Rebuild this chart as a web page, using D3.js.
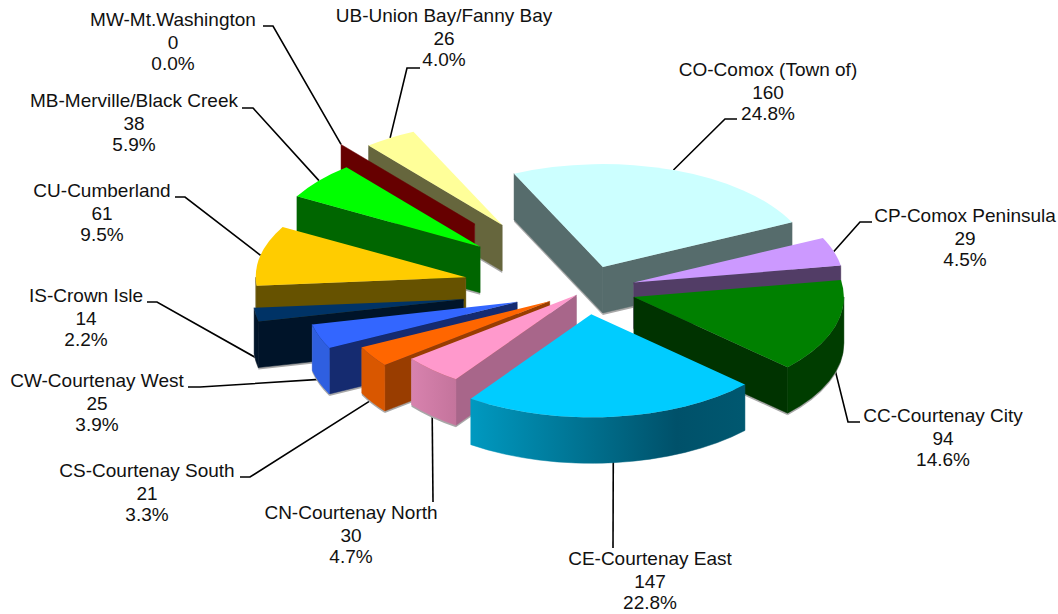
<!doctype html>
<html>
<head>
<meta charset="utf-8">
<title>Pie</title>
<script src="https://cdn.jsdelivr.net/npm/d3@7"></script>
<style>
    body { margin: 0; background: #fff; }
    text { font-family: "Liberation Sans", Arial, sans-serif; font-size: 19px; fill: #111; }
</style>
</head>
<body>
<script>

    var names = ["CO-Comox (Town of)", "CP-Comox Peninsula", "CC-Courtenay City", "CE-Courtenay East",
        "CN-Courtenay North", "CS-Courtenay South", "CW-Courtenay West", "IS-Crown Isle",
        "CU-Cumberland", "MB-Merville/Black Creek", "MW-Mt.Washington", "UB-Union Bay/Fanny Bay"];
    var values = [160, 29, 94, 147, 30, 21, 25, 14, 61, 38, 0, 26];

    // how far each slice is pulled out of the pie
    var explode = [50, 50, 50, 50, 14, 43, 73, 124, 123, 138, 175, 157];

    var topColors = ["#CCFFFF", "#CC99FF", "#008000", "#00CCFF", "#FF99CC", "#FF6600", "#3366FF", "#003366", "#FFCC00", "#00FF00", "#660000", "#FFFF99"];
    var wallColors = ["#566C6C", "#523D66", "#003300", "#00516A", "#A8668A", "#993D00", "#152B70", "#001429", "#665200", "#006600", "#660000", "#66663D"];
    var rimColors = ["#566C6C", "#523D66", "#003D00", "url(#rimCE)", "url(#rimCN)", "#D95700", "#2F5FE0", "#001429", "#665200", "#006600", "#660000", "#66663D"];

    // label centre x, first baseline y, then leader elbow and end
    var labelX = [768, 965, 943, 650, 351, 147, 97, 86, 102, 134, 173, 444];
    var labelY = [76, 222, 422, 565, 519, 477, 387, 302, 197, 107, 26, 22];
    var rowOffsets = [0, 23, 44];
    var leaderPts = [
        [[725, 119], [737, 119]],
        [[860, 222], [872, 222]],
        [[848, 422], [860, 422]],
        [[613, 548]],
        [[433, 502]],
        [[250, 477], [240, 477]],
        [[200, 387], [188, 387]],
        [[157, 302], [147, 302]],
        [[185, 197], [175, 197]],
        [[253, 108], [242, 108]],
        [[273, 26], [263, 26]],
        [[407, 68], [420, 68]]
    ];

    var cx = 586, cy = 290, radius = 210, tilt = 0.49, depth = 46;

    var svg = d3.select("body").append("svg")
        .attr("width", 1058)
        .attr("height", 614);

    var defs = svg.append("defs");
    var gradCE = defs.append("linearGradient").attr("id", "rimCE");
    gradCE.append("stop").attr("offset", "0%").attr("stop-color", "#0099C0");
    gradCE.append("stop").attr("offset", "45%").attr("stop-color", "#006E8C");
    gradCE.append("stop").attr("offset", "75%").attr("stop-color", "#00516A");
    gradCE.append("stop").attr("offset", "100%").attr("stop-color", "#005870");
    var gradCN = defs.append("linearGradient").attr("id", "rimCN");
    gradCN.append("stop").attr("offset", "0%").attr("stop-color", "#D882AE");
    gradCN.append("stop").attr("offset", "100%").attr("stop-color", "#C4749C");

    var pie = d3.pie().sort(null)
        .startAngle(-25 * Math.PI / 180)
        .endAngle(335 * Math.PI / 180);
    var slices = pie(values);

    var arc = d3.arc().innerRadius(0).outerRadius(radius);
    var pctFormat = d3.format(".1%");
    var total = d3.sum(values);

    function onRim(a) {
        return [radius * Math.sin(a), -radius * tilt * Math.cos(a)];
    }

    slices.forEach(function(d, i) {
        var mid = (d.startAngle + d.endAngle) / 2;
        d.mid = mid;
        d.ax = cx + explode[i] * Math.sin(mid);
        d.ay = cy - explode[i] * tilt * Math.cos(mid);
        d.idx = i;
    });

    // leaders go under the slices
    var leaders = svg.append("g");
    slices.forEach(function(d, i) {
        var p = onRim(d.mid);
        var x0 = d.ax + p[0];
        var y0 = d.ay + p[1] + (Math.cos(d.mid) < 0 ? depth - 3 : 0);
        var pts = [[x0, y0]].concat(leaderPts[i]);
        leaders.append("path")
            .attr("d", d3.line()(pts))
            .attr("fill", "none")
            .attr("stroke", "#000")
            .attr("stroke-width", 1.6);
    });

    function radialWall(d, angle) {
        var p = onRim(angle);
        var pts = [[d.ax, d.ay], [d.ax + p[0], d.ay + p[1]], [d.ax + p[0], d.ay + p[1] + depth], [d.ax, d.ay + depth]];
        return d3.line()(pts) + "Z";
    }

    function rimWall(d, a0, a1) {
        var p0 = onRim(a0), p1 = onRim(a1);
        var rx = radius, ry = radius * tilt;
        return "M" + (d.ax + p0[0]) + "," + (d.ay + p0[1]) +
            "A" + rx + "," + ry + " 0 0 1 " + (d.ax + p1[0]) + "," + (d.ay + p1[1]) +
            "L" + (d.ax + p1[0]) + "," + (d.ay + p1[1] + depth) +
            "A" + rx + "," + ry + " 0 0 0 " + (d.ax + p0[0]) + "," + (d.ay + p0[1] + depth) + "Z";
    }

    // back slices first
    var order = slices.slice().sort(function(a, b) {
        return Math.cos(b.mid) - Math.cos(a.mid);
    });

    order.forEach(function(d) {
        var i = d.idx;
        var group = svg.append("g").attr("class", "slice");
        var a0 = Math.max(d.startAngle, Math.PI / 2), a1 = Math.min(d.endAngle, Math.PI * 1.5);
        var hasRim = a1 > a0;
        var walls = [];

        if (Math.sin(d.startAngle) < 0) walls.push([radialWall(d, d.startAngle), wallColors[i]]);
        if (Math.sin(d.endAngle) > 0) walls.push([radialWall(d, d.endAngle), wallColors[i]]);
        if (hasRim) walls.push([rimWall(d, a0, a1), rimColors[i]]);

        // grey fringe under the walls, the original bitmap has it too
        if (i !== 3) {
            walls.forEach(function(w) {
                group.append("path").attr("d", w[0])
                    .attr("transform", "translate(0,2)")
                    .attr("fill", "#a8a8a8");
            });
        }
        walls.forEach(function(w) {
            group.append("path").attr("d", w[0])
                .attr("fill", w[1])
                .attr("stroke", w[1])
                .attr("stroke-width", 0.5);
        });
        group.append("path")
            .attr("transform", "translate(" + d.ax + "," + d.ay + ") scale(1," + tilt + ")")
            .attr("d", arc(d))
            .attr("fill", topColors[i]);
    });

    var labels = svg.append("g").attr("text-anchor", "middle");
    slices.forEach(function(d, i) {
        var rows = [names[i], values[i], pctFormat(values[i] / total)];
        rows.forEach(function(r, j) {
            labels.append("text")
                .attr("x", labelX[i])
                .attr("y", labelY[i] + rowOffsets[j])
                .text(r);
        });
    });

</script>
</body>
</html>
